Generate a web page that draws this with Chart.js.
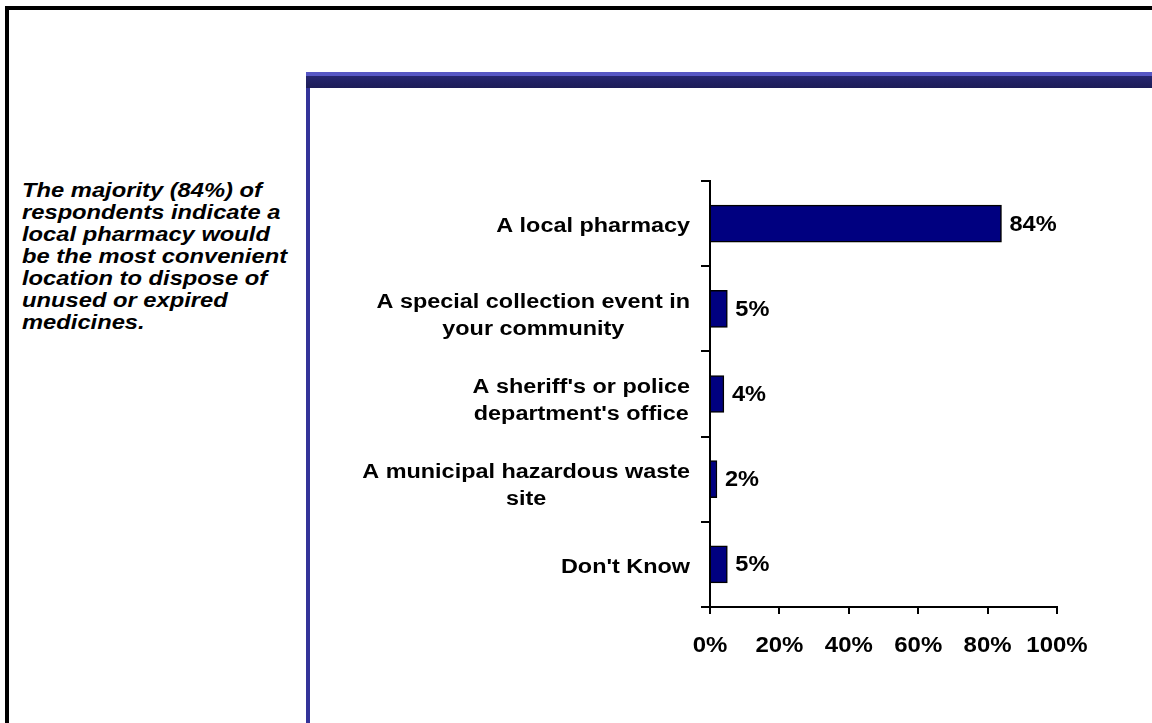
<!DOCTYPE html>
<html>
<head>
<meta charset="utf-8">
<script src="https://cdn.jsdelivr.net/npm/chart.js@4/dist/chart.umd.min.js"></script>
<style>
  html, body { margin: 0; padding: 0; background: #fff; }
  body { width: 1152px; height: 723px; position: relative; overflow: hidden; font-family: "Liberation Sans", Arial, sans-serif; }
  .frame-top { position: absolute; left: 5px; top: 6px; width: 1147px; height: 4px; background: #000; }
  .frame-left { position: absolute; left: 5px; top: 6px; width: 4px; height: 717px; background: #000; }
  .panel-top { position: absolute; left: 306px; top: 72px; width: 846px; height: 16px;
    background: linear-gradient(#5757c4 0, #5757c4 4px, #26266f 4px, #1d1d58 16px); }
  .panel-left { position: absolute; left: 306px; top: 88px; width: 4px; height: 635px; background: #333399; }
  .note { position: absolute; left: 22px; top: 179px; font-size: 21px; line-height: 22px; font-weight: bold; font-style: italic; color: #000;
    white-space: nowrap; transform: scaleX(1.13); transform-origin: 0 0; }
  .chart-box { position: absolute; left: 310px; top: 88px; width: 842px; height: 635px; }
</style>
</head>
<body>
<div class="frame-top"></div>
<div class="frame-left"></div>
<div class="panel-top"></div>
<div class="panel-left"></div>
<div class="note">The majority (84%) of<br>respondents indicate a<br>local pharmacy would<br>be the most convenient<br>location to dispose of<br>unused or expired<br>medicines.</div>
<div class="chart-box"><canvas id="location-chart"></canvas></div>

<script>
const categories = [
  ["A local pharmacy"],
  ["A special collection event in", "your community"],
  ["A sheriff's or police", "department's office"],
  ["A municipal hazardous waste", "site"],
  ["Don't Know"],
];
const percentages = [84, 5, 4, 2, 5];
const xTicks = [0, 20, 40, 60, 80, 100];

const FONT = '"Liberation Sans", Arial, sans-serif';

// draw text horizontally stretched around its anchor point
function wideText(ctx, text, x, y, stretch) {
  ctx.save();
  ctx.translate(x, y);
  ctx.scale(stretch, 1);
  ctx.fillText(text, 0, 0);
  ctx.restore();
}

// category names, each block right aligned with its lines centred
const categoryLabels = {
  id: "categoryLabels",
  afterDraw(chart) {
    const { ctx, scales } = chart;
    const y = scales.y;
    const right = chart.chartArea.left - 20;
    const stretch = 1.17;
    ctx.save();
    ctx.font = "bold 20px " + FONT;
    ctx.fillStyle = "#000";
    ctx.textAlign = "center";
    ctx.textBaseline = "middle";
    categories.forEach((lines, i) => {
      const w = Math.max(...lines.map((l) => ctx.measureText(l).width)) * stretch;
      const cx = right - w / 2;
      const cy = y.getPixelForValue(i) + (lines.length > 1 ? 7 : 3);
      const lh = 27;
      lines.forEach((l, j) => {
        wideText(ctx, l, cx, cy + (j - (lines.length - 1) / 2) * lh, stretch);
      });
    });
    ctx.restore();
  },
};

// x axis percentages, placed by the x scale
const xLabels = {
  id: "xLabels",
  afterDraw(chart) {
    const { ctx, scales } = chart;
    const x = scales.x;
    ctx.save();
    ctx.font = "bold 22px " + FONT;
    ctx.fillStyle = "#000";
    ctx.textAlign = "center";
    ctx.textBaseline = "middle";
    xTicks.forEach((v) => {
      wideText(ctx, v + "%", x.getPixelForValue(v), x.top + 39, 1.09);
    });
    ctx.restore();
  },
};

// value labels at the end of each bar
const valueLabels = {
  id: "valueLabels",
  afterDatasetsDraw(chart) {
    const { ctx } = chart;
    const meta = chart.getDatasetMeta(0);
    ctx.save();
    ctx.font = "bold 22px " + FONT;
    ctx.fillStyle = "#000";
    ctx.textAlign = "left";
    ctx.textBaseline = "middle";
    meta.data.forEach((bar, i) => {
      wideText(ctx, percentages[i] + "%", bar.x + 8, bar.y + 1, 1.07);
    });
    ctx.restore();
  },
};

const ctxChart = document.getElementById("location-chart");

new Chart(ctxChart, {
  type: "bar",
  data: {
    labels: categories,
    datasets: [
      {
        data: percentages,
        backgroundColor: "#000080",
        borderColor: "#000",
        borderWidth: 1.5,
        barThickness: 37,
      },
    ],
  },
  plugins: [categoryLabels, xLabels, valueLabels],
  options: {
    indexAxis: "y",
    responsive: true,
    maintainAspectRatio: false,
    animation: false,
    layout: { padding: { left: 0, right: 95, top: 93, bottom: 0 } },
    scales: {
      x: {
        type: "linear",
        min: 0,
        max: 100,
        afterBuildTicks: (scale) => {
          scale.ticks = xTicks.map((v) => ({ value: v }));
        },
        afterFit: (scale) => {
          scale.height = 116;
        },
        grid: {
          drawOnChartArea: false,
          drawTicks: true,
          tickLength: 7,
          color: "#000",
          lineWidth: 2,
        },
        border: { display: true, color: "#000", width: 2 },
        ticks: { display: false },
      },
      y: {
        type: "category",
        offset: true,
        afterFit: (scale) => {
          scale.width = 400;
        },
        grid: {
          offset: true,
          drawOnChartArea: false,
          drawTicks: true,
          tickLength: 9,
          color: "#000",
          lineWidth: 2,
        },
        border: { display: true, color: "#000", width: 2 },
        ticks: { display: false },
      },
    },
    plugins: {
      legend: { display: false },
      tooltip: { enabled: false },
    },
  },
});
</script>
</body>
</html>
